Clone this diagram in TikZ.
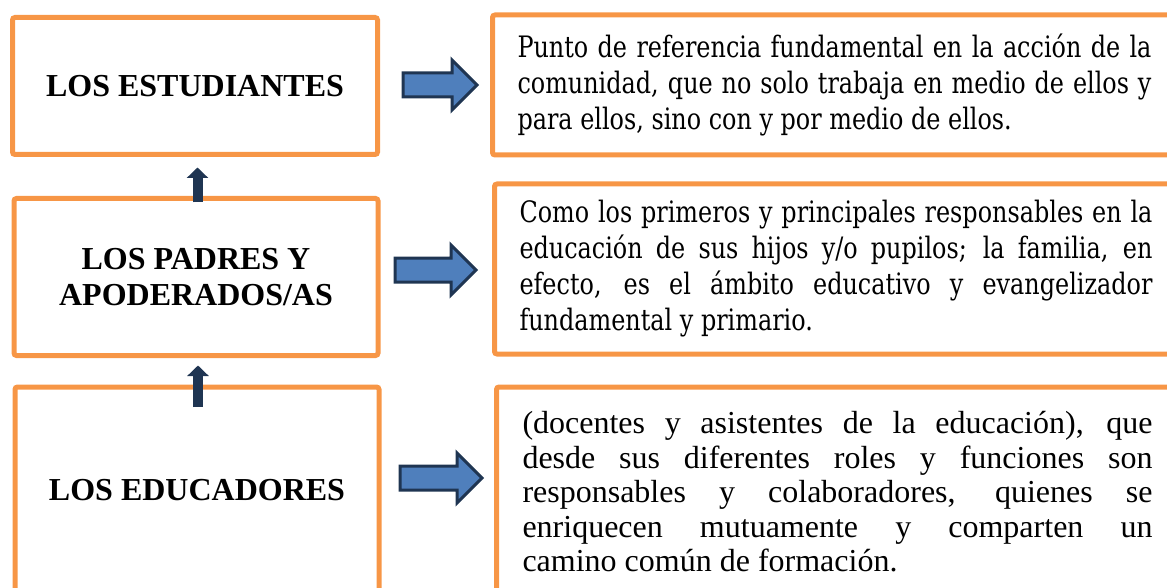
\documentclass[tikz,border=0pt]{standalone}
\usepackage{fontspec}
\setmainfont{Liberation Serif}
\newfontfamily\cambriafont[FakeStretch=0.81]{DejaVu Serif}
\usetikzlibrary{shapes.arrows,arrows.meta}
\definecolor{boxorange}{HTML}{F79646}
\definecolor{arrownavy}{HTML}{1F3552}
\definecolor{arrowblue}{HTML}{4F7FBC}
\begin{document}
\begin{tikzpicture}[x=1pt,y=-1pt,
    actor/.style={draw=boxorange, line width=5pt, rounded corners=2.5pt, align=center,
      inner sep=0pt, font=\fontsize{32}{36}\selectfont\bfseries},
    role/.style={draw=boxorange, line width=5pt, rounded corners=2.5pt, align=justify,
      anchor=west, inner xsep=25pt, inner ysep=0pt},
    blockarrow/.style={single arrow, draw=arrownavy, fill=arrowblue, line width=3pt,
      inner xsep=0pt, inner ysep=10.5pt, single arrow head extend=13pt, anchor=tail},
    uparrow/.style={draw=arrownavy, line width=10pt, -{Triangle[width=21pt,length=10.5pt]}}]
        \useasboundingbox (0,0) rectangle (1167,588);

        % left column
        \node[actor, minimum width=365pt, minimum height=137pt] (est) at (195,86) {LOS ESTUDIANTES};
        \node[actor, minimum width=364pt, minimum height=157pt] (pad) at (196,277) {LOS PADRES Y\\APODERADOS/AS};
        \node[actor, minimum width=364pt, minimum height=206pt] (edu) at (197,490) {LOS EDUCADORES};

        % right column
        \node[role, text width=634pt, minimum height=140pt, font={\cambriafont\fontsize{29.5}{36}\selectfont}] (ref) at (490,85)
          {Punto de referencia fundamental en la acción de la\linebreak
           comunidad, que no solo trabaja en medio de ellos y\linebreak
           para ellos, sino con y por medio de ellos.};
        \node[role, text width=633pt, minimum height=170pt, font={\cambriafont\fontsize{29.5}{36}\selectfont}] (fam) at (492,269)
          {Como los primeros y principales responsables en la\linebreak
           educación de sus hijos y/o pupilos; la familia, en\linebreak
           efecto, es el ámbito educativo y evangelizador\linebreak
           fundamental y primario.};
        \node[role, inner xsep=26pt, text width=630pt, minimum height=210pt, font=\fontsize{32}{34.5}\selectfont] (doc) at (494,492)
          {(docentes y asistentes de la educación), que\linebreak
           desde sus diferentes roles y funciones son\linebreak
           responsables y colaboradores, quienes se\linebreak
           enriquecen mutuamente y comparten un\linebreak
           camino común de formación.};

        % block arrows
        \node[blockarrow, minimum height=74pt] (a1) at (401.5,85) {};
        \node[blockarrow, minimum height=81pt] (a2) at (393.5,270) {};
        \node[blockarrow, minimum height=82pt] (a3) at (398.5,478) {};

        % upward arrows
        \draw[uparrow] ([xshift=1.5pt,yshift=-6.5pt]pad.north) -- ([xshift=1.5pt,yshift=-10.5pt]pad.north |- est.south);
        \draw[uparrow] ([xshift=1pt,yshift=-22.5pt]edu.north) -- ([xshift=1pt,yshift=-7.5pt]edu.north |- pad.south);
\end{tikzpicture}
\end{document}
